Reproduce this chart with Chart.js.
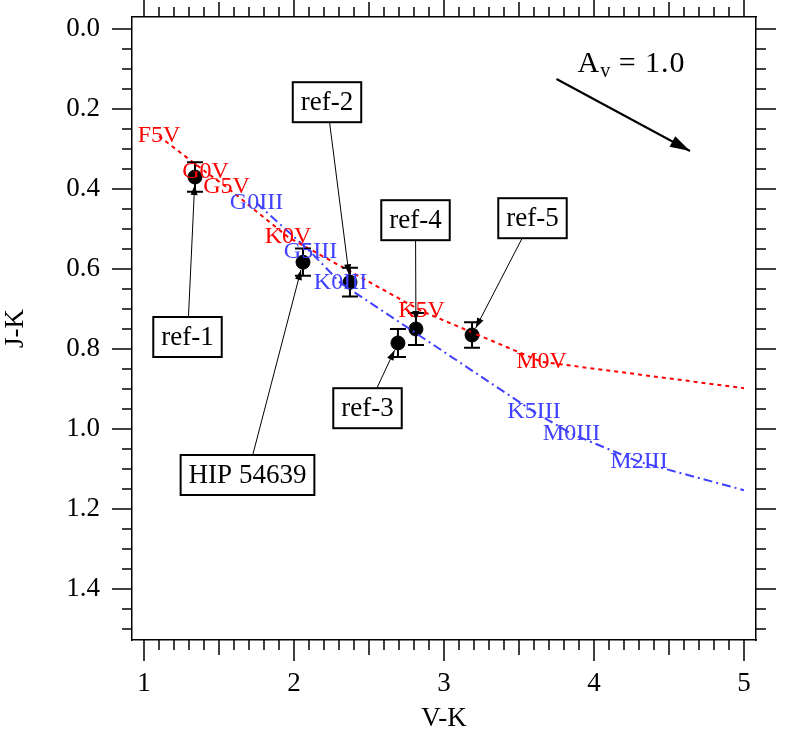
<!DOCTYPE html>
<html>
<head>
<meta charset="utf-8">
<title>V-K vs J-K</title>
<script src="https://cdn.jsdelivr.net/npm/chart.js@4.4.1/dist/chart.umd.min.js"></script>
<style>
  html, body { margin:0; padding:0; background:#fff; }
</style>
</head>
<body>
<canvas id="cc" width="809" height="736"></canvas>
<script>
// dwarf sequence (red dotted)
const dwarfVK  = [1.10, 1.41, 1.55, 1.96, 2.85, 3.65, 5.00];
const dwarfJK  = [0.268, 0.357, 0.395, 0.52, 0.705, 0.832, 0.898];
const dwarfSpT = ['F5V','G0V','G5V','K0V','K5V','M0V',''];

// giant sequence (blue dash-dot)
const giantVK  = [1.75, 2.11, 2.31, 3.60, 3.85, 4.30, 5.00];
const giantJK  = [0.435, 0.557, 0.635, 0.957, 1.012, 1.082, 1.153];
const giantSpT = ['G0III','G5III','K0III','K5III','M0III','M2III',''];

// observed stars
const starNames = ['ref-1','HIP 54639','ref-2','ref-3','ref-4','ref-5'];
const starVK  = [1.34, 2.06, 2.373, 2.693, 2.813, 3.187];
const starJK  = [0.37, 0.583, 0.633, 0.785, 0.75, 0.765];
const starErr = [0.037, 0.034, 0.036, 0.035, 0.04, 0.032];

// where the name boxes sit (data units)
const boxVK = [1.29, 1.69, 2.22, 2.49, 2.81, 3.59];
const boxJK = [0.77, 1.115, 0.183, 0.948, 0.478, 0.473];

// reddening vector, Av = 1.0
const avFrom = [3.75, 0.125];
const avTo   = [4.64, 0.305];
const avText = [3.89, 0.108];

const xTicks = [1, 2, 3, 4, 5];
const yTicks = [0.0, 0.2, 0.4, 0.6, 0.8, 1.0, 1.2, 1.4];

const SERIF = '"Liberation Serif", "Times New Roman", serif';
const RED = '#ff0000';
const BLUE = 'rgb(64,64,255)';

function toXY(xs, ys){ return xs.map((x, i) => ({ x, y: ys[i] })); }

function arrowHead(ctx, x0, y0, x1, y1, len, wid){
  const a = Math.atan2(y1 - y0, x1 - x0);
  const c = Math.cos(a), s = Math.sin(a);
  ctx.beginPath();
  ctx.moveTo(x1, y1);
  ctx.lineTo(x1 - len*c + wid*s, y1 - len*s - wid*c);
  ctx.lineTo(x1 - len*c - wid*s, y1 - len*s + wid*c);
  ctx.closePath();
  ctx.fill();
}

// no extra room for overhanging labels: the frame is fixed
function noPad(s){ s.paddingTop = 0; s.paddingBottom = 0; s.paddingLeft = 0; s.paddingRight = 0; }

// outward ticks on all four sides
const tickMarks = {
  id: 'tickMarks',
  afterDraw(chart){
    const { ctx, chartArea: a, scales: { x, y } } = chart;
    ctx.save();
    ctx.strokeStyle = '#000';
    ctx.lineWidth = 1.5;
    ctx.beginPath();
    for (let i = 10; i <= 50; i++){
      const px = Math.round(x.getPixelForValue(i / 10));
      const len = i % 10 === 0 ? 21 : (i % 5 === 0 ? 15 : 10);
      ctx.moveTo(px, a.bottom); ctx.lineTo(px, a.bottom + len);
      ctx.moveTo(px, a.top);    ctx.lineTo(px, a.top - len);
    }
    for (let i = 0; i <= 30; i++){
      const py = Math.round(y.getPixelForValue(i * 0.05));
      const len = i % 4 === 0 ? 20 : 10;
      ctx.moveTo(a.left, py);  ctx.lineTo(a.left - len, py);
      ctx.moveTo(a.right, py); ctx.lineTo(a.right + len, py);
    }
    ctx.stroke();
    ctx.restore();
  }
};

// error bars, spectral type labels, name boxes, reddening arrow
const overlay = {
  id: 'overlay',
  afterDatasetsDraw(chart){
    const { ctx, scales: { x, y } } = chart;
    ctx.save();

    // error bars
    ctx.strokeStyle = '#000';
    ctx.lineWidth = 2;
    starVK.forEach((v, i) => {
      const px = x.getPixelForValue(v);
      const y0 = y.getPixelForValue(starJK[i] - starErr[i]);
      const y1 = y.getPixelForValue(starJK[i] + starErr[i]);
      ctx.beginPath();
      ctx.moveTo(px, y0); ctx.lineTo(px, y1);
      ctx.moveTo(px - 8, y0); ctx.lineTo(px + 8, y0);
      ctx.moveTo(px - 8, y1); ctx.lineTo(px + 8, y1);
      ctx.stroke();
    });

    // spectral type labels
    ctx.font = '24px ' + SERIF;
    ctx.textAlign = 'center';
    ctx.textBaseline = 'middle';
    ctx.fillStyle = RED;
    dwarfSpT.forEach((t, i) => {
      if (t) ctx.fillText(t, x.getPixelForValue(dwarfVK[i]), y.getPixelForValue(dwarfJK[i]));
    });
    ctx.fillStyle = BLUE;
    giantSpT.forEach((t, i) => {
      if (t) ctx.fillText(t, x.getPixelForValue(giantVK[i]), y.getPixelForValue(giantJK[i]));
    });

    // name boxes with pointers
    ctx.font = '27px ' + SERIF;
    starNames.forEach((name, i) => {
      const px = x.getPixelForValue(starVK[i]), py = y.getPixelForValue(starJK[i]);
      const bx = x.getPixelForValue(boxVK[i]), by = y.getPixelForValue(boxJK[i]);
      const d = Math.hypot(bx - px, by - py);
      const tx = px + (bx - px) / d * 8, ty = py + (by - py) / d * 8;
      ctx.strokeStyle = '#000';
      ctx.fillStyle = '#000';
      ctx.lineWidth = 1;
      ctx.beginPath();
      ctx.moveTo(bx, by); ctx.lineTo(tx, ty);
      ctx.stroke();
      arrowHead(ctx, bx, by, tx, ty, 10, 3.5);

      const w = ctx.measureText(name).width + 16, h = 40;
      ctx.fillStyle = '#fff';
      ctx.fillRect(bx - w/2, by - h/2, w, h);
      ctx.lineWidth = 2;
      ctx.strokeRect(bx - w/2, by - h/2, w, h);
      ctx.fillStyle = '#000';
      ctx.fillText(name, bx, by + 1);
    });

    // reddening vector
    const ax0 = x.getPixelForValue(avFrom[0]), ay0 = y.getPixelForValue(avFrom[1]);
    const ax1 = x.getPixelForValue(avTo[0]),   ay1 = y.getPixelForValue(avTo[1]);
    ctx.lineWidth = 2;
    ctx.beginPath();
    ctx.moveTo(ax0, ay0); ctx.lineTo(ax1, ay1);
    ctx.stroke();
    arrowHead(ctx, ax0, ay0, ax1, ay1, 20, 6);

    let tx = x.getPixelForValue(avText[0]);
    const ty = y.getPixelForValue(avText[1]);
    ctx.textAlign = 'left';
    ctx.textBaseline = 'alphabetic';
    ctx.font = '30px ' + SERIF;
    ctx.fillText('A', tx, ty);
    tx += ctx.measureText('A').width + 1;
    ctx.font = '20px ' + SERIF;
    ctx.fillText('v', tx, ty + 5);
    tx += ctx.measureText('v').width;
    ctx.font = '30px ' + SERIF;
    ctx.letterSpacing = '1px';
    ctx.fillText(' = 1.0', tx, ty);

    ctx.restore();
  }
};

const frame = { display: true, color: '#000', width: 1.5 };

new Chart(document.getElementById('cc'), {
  type: 'scatter',
  data: {
    datasets: [
      { type: 'line', data: toXY(dwarfVK, dwarfJK), borderColor: RED, borderWidth: 2,
        borderDash: [4, 4], pointRadius: 0, fill: false, tension: 0 },
      { type: 'line', data: toXY(giantVK, giantJK), borderColor: BLUE, borderWidth: 2,
        borderDash: [9, 4, 2, 4], pointRadius: 0, fill: false, tension: 0 },
      { data: toXY(starVK, starJK), backgroundColor: '#000', borderColor: '#000',
        pointRadius: 7, pointHoverRadius: 7 }
    ]
  },
  options: {
    responsive: false,
    animation: false,
    events: [],
    layout: { padding: 0 },
    plugins: { legend: { display: false }, tooltip: { enabled: false } },
    scales: {
      x: {
        type: 'linear', position: 'bottom', min: 0.92, max: 5.08,
        afterBuildTicks: s => { s.ticks = xTicks.map(v => ({ value: v })); },
        afterFit: s => { s.height = 96; noPad(s); },
        grid: { display: false, drawTicks: true, tickLength: 21 },
        border: frame,
        ticks: { color: '#000', font: { family: SERIF, size: 27 }, padding: 7,
                 maxRotation: 0, autoSkip: false, callback: v => String(v) },
        title: { display: true, text: 'V-K', color: '#000',
                 font: { family: SERIF, size: 27, lineHeight: 1 }, padding: { top: 0, bottom: 4 } }
      },
      xTop: {
        axis: 'x', type: 'linear', position: 'top', min: 0.92, max: 5.08,
        afterFit: s => { s.height = 17; noPad(s); },
        grid: { display: false, drawTicks: false },
        border: frame,
        ticks: { display: false }
      },
      y: {
        type: 'linear', position: 'left', reverse: true, min: -0.03, max: 1.5275,
        afterBuildTicks: s => { s.ticks = yTicks.map(v => ({ value: v })); },
        afterFit: s => { s.width = 132; noPad(s); },
        grid: { display: false, drawTicks: true, tickLength: 20 },
        border: frame,
        ticks: { color: '#000', font: { family: SERIF, size: 27 }, padding: 12,
                 autoSkip: false, callback: v => Number(v).toFixed(1) },
        title: { display: true, text: 'J-K', color: '#000',
                 font: { family: SERIF, size: 27, lineHeight: 1 }, padding: { top: 2, bottom: 0 } }
      },
      yRight: {
        axis: 'y', type: 'linear', position: 'right', reverse: true, min: -0.03, max: 1.5275,
        afterFit: s => { s.width = 53; noPad(s); },
        grid: { display: false, drawTicks: false },
        border: frame,
        ticks: { display: false }
      }
    }
  },
  plugins: [tickMarks, overlay]
});
</script>
</body>
</html>
